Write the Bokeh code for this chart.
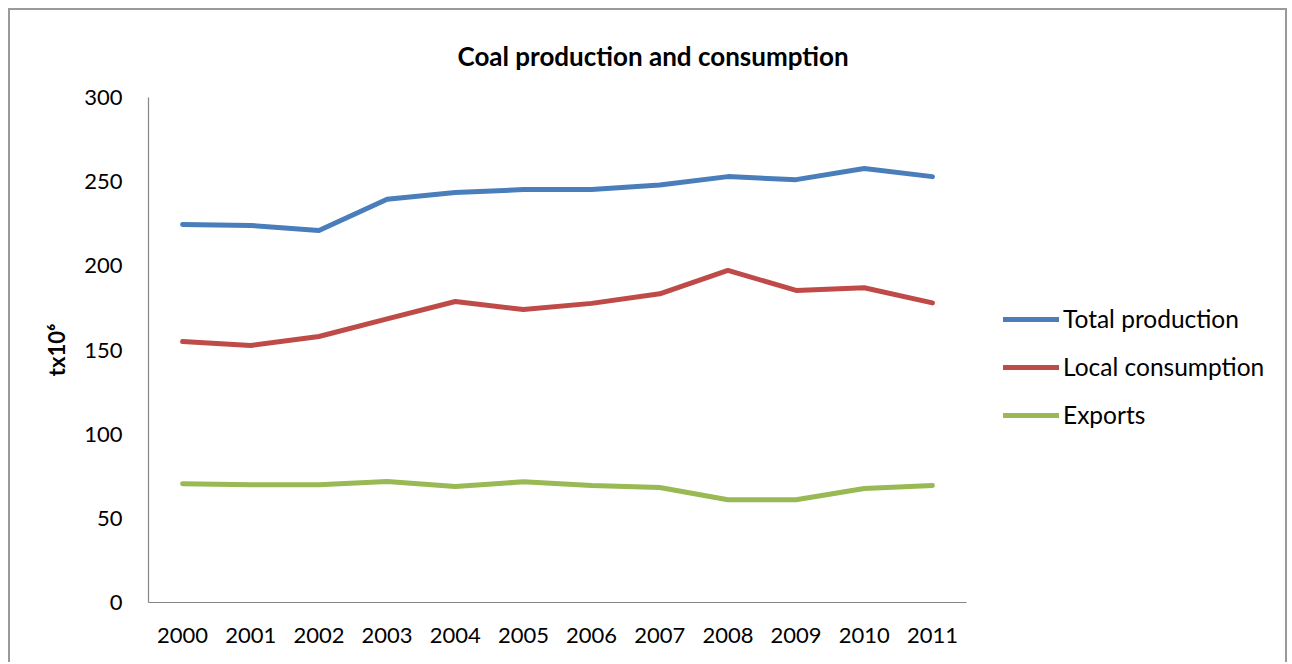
from bokeh.plotting import figure
from bokeh.models import Range1d, Legend, LegendItem, Title
from bokeh.embed import file_html
from bokeh.resources import INLINE

years = ["2000", "2001", "2002", "2003", "2004", "2005", "2006", "2007", "2008", "2009", "2010", "2011"]
total_production = [224.5, 224.0, 221.0, 239.5, 243.5, 245.3, 245.3, 248.0, 253.0, 251.2, 257.8, 253.0]
local_consumption = [155.0, 152.7, 158.0, 168.5, 178.8, 174.0, 177.7, 183.4, 197.3, 185.4, 187.0, 178.0]
exports = [70.5, 69.9, 69.9, 71.9, 68.9, 71.7, 69.5, 68.3, 61.0, 61.0, 67.7, 69.5]
series_names = ["Total production", "Local consumption", "Exports"]
series_colors = ["#4A7EBB", "#BE4B48", "#98B954"]

FONT = "Lato"

xs = [int(y) for y in years]
# layout: the category band (12 slots) occupies 818 px of a 1141 px wide frame,
# the remaining space on the right holds the legend
slot_px = 818 / len(years)
frame_px = 1141
x_start = xs[0] - 0.5
x_end = x_start + frame_px / slot_px

p = figure(
    width=1279, height=654,
    x_range=Range1d(x_start, x_end),
    y_range=Range1d(0, 300),
    output_backend="svg", toolbar_location=None,
    min_border_left=138, min_border_right=0, min_border_top=87, min_border_bottom=62,
)
p.styles = {"position": "relative", "left": "8px", "top": "8px",
            "border-top": "2px solid #9a9a9a", "border-left": "2px solid #9a9a9a",
            "border-right": "2px solid #9a9a9a"}

p.title = Title(text="Coal production and consumption", align="left", vertical_align="top",
                text_font=FONT, text_font_style="bold", text_font_size="26px",
                text_color="#000000", offset=309, standoff=48)

renderers = []
for vals, color in zip([total_production, local_consumption, exports], series_colors):
    r = p.line(xs, vals, line_color=color, line_width=5, line_cap="round", line_join="round")
    renderers.append(r)

p.xgrid.visible = False
p.ygrid.visible = False
p.outline_line_color = None

for ax in (p.xaxis[0], p.yaxis[0]):
    ax.axis_line_color = "#868686"
    ax.axis_line_width = 1.2
    ax.major_tick_line_color = None
    ax.minor_tick_line_color = None
    ax.major_label_text_font = FONT
    ax.major_label_text_font_size = "22px"
    ax.major_label_text_color = "#000000"

p.xaxis.ticker = xs
p.xaxis.bounds = (x_start, xs[-1] + 0.5)
p.xaxis.major_label_standoff = 19

p.yaxis.ticker = [0, 50, 100, 150, 200, 250, 300]
p.yaxis.major_label_standoff = 20
p.yaxis.axis_label = "tx10⁶"
p.yaxis.axis_label_text_font = FONT
p.yaxis.axis_label_text_font_style = "bold"
p.yaxis.axis_label_text_font_size = "22px"
p.yaxis.axis_label_text_color = "#000000"
p.yaxis.axis_label_standoff = 11

legend = Legend(
    items=[LegendItem(label=n, renderers=[r]) for n, r in zip(series_names, renderers)],
    location=(855, 173),
    label_text_font=FONT, label_text_font_size="24.5px", label_text_color="#000000",
    glyph_width=56, glyph_height=20, label_height=20, label_standoff=4,
    spacing=19, padding=0, margin=0,
    border_line_color=None, background_fill_alpha=0,
)
p.add_layout(legend, "center")

open("out.html", "w").write(file_html(p, INLINE))
